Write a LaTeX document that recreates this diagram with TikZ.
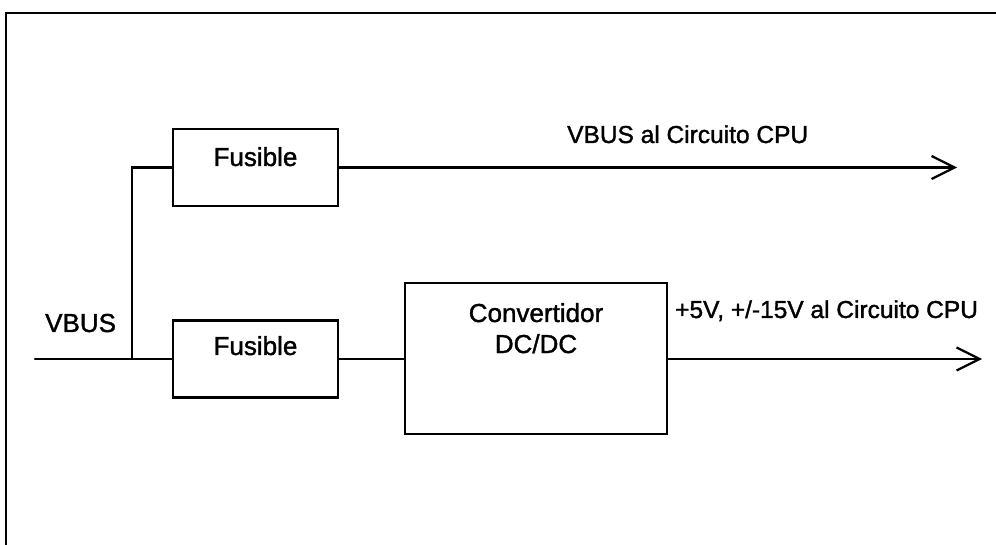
\documentclass[tikz,border=0pt]{standalone}
\usepackage{fontspec}
\setmainfont{Liberation Sans}[FakeBold=1.4]
\usetikzlibrary{arrows.meta}
\begin{document}
\begin{tikzpicture}[x=1pt,y=-1pt,
  wire/.style={line width=2.1pt,line cap=round},
  box/.style={draw,line width=2.1pt,inner sep=0pt,outer sep=0pt},
  boxtext/.style={anchor=base,inner sep=0pt,font=\fontsize{26}{31}\selectfont},
  lbltext/.style={anchor=base west,inner sep=0pt,font=\fontsize{24.5}{29}\selectfont},
  outarrow/.style={wire,-{Straight Barb[length=23pt,width=23pt,line width=2.2pt]}}]
\useasboundingbox (0,0) rectangle (996,545);
% frame (open at right and bottom)
\coordinate (fr1) at (6,545);
\coordinate (fr2) at (6,13);
\coordinate (fr3) at (996,13);
\draw[line width=2.1pt] (fr1) -- (fr2) -- (fr3);
% boxes
\node[box,minimum width=165pt,minimum height=77pt] (f1) at (255.5,167.5) {};
\node[box,minimum width=165pt,minimum height=77pt] (f2) at (255.5,359) {};
\node[box,minimum width=262pt,minimum height=151pt] (cv) at (536,358.5) {};
% texts
\node[boxtext] (t1) at (255.5,166) {Fusible};
\node[boxtext] (t2) at (255.5,355) {Fusible};
\node[boxtext] (t3) at (536,322) {Convertidor};
\node[boxtext] (t4) at (536,353) {DC/DC};
\node[anchor=base west,inner sep=0pt,font=\fontsize{26}{31}\selectfont] (vb) at (45,332) {VBUS};
\node[lbltext] (o1) at (567,143) {VBUS al Circuito CPU};
\node[lbltext] (o2) at (675,318) {+5V, +/-15V al Circuito CPU};
% connectors
\coordinate (in) at (35,359);
\coordinate (jn) at (132,359);
\coordinate (e1) at (957,167.5);
\coordinate (e2) at (982,359);
\draw[wire] (in) -- (f2.west);
\draw[wire] (jn) |- (f1.west);
\draw[wire] (f2.east) -- (f2.east -| cv.west);
\draw[outarrow] (f1.east) -- (e1);
\draw[outarrow] (cv.east |- e2) -- (e2);
\end{tikzpicture}
\end{document}
